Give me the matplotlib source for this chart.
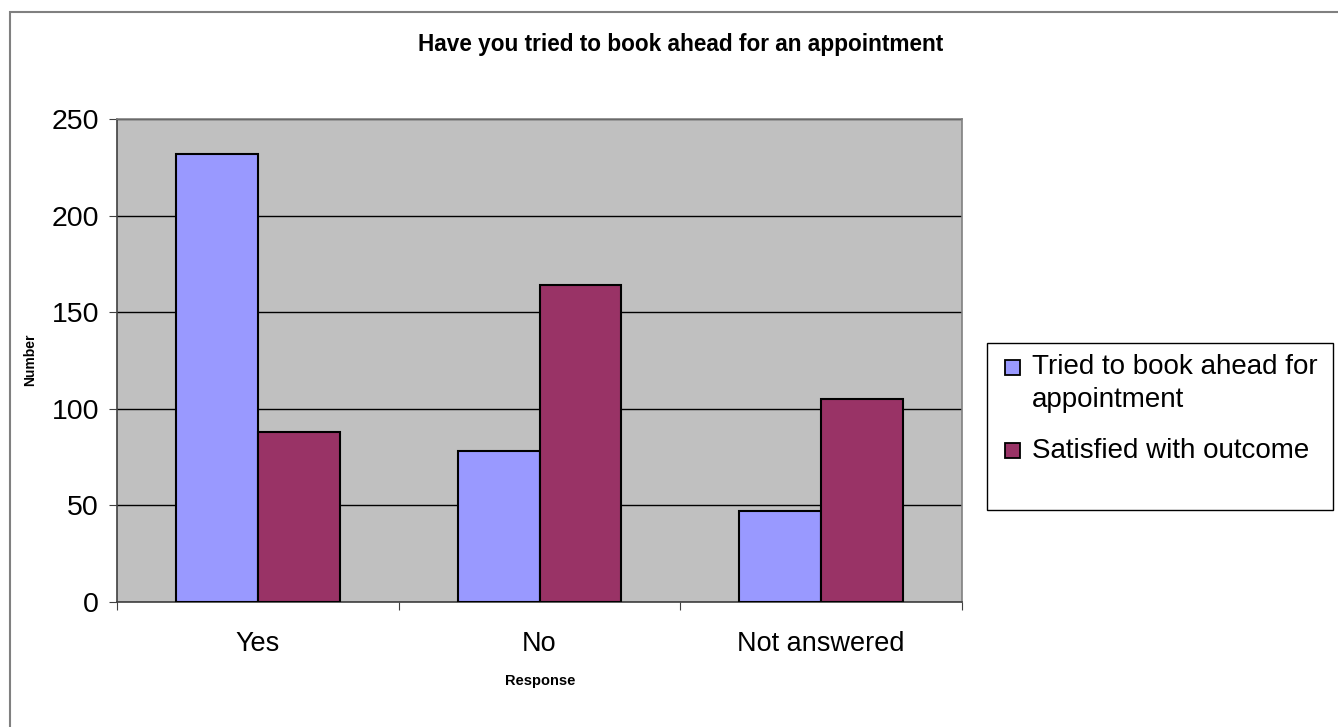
import matplotlib
matplotlib.use("Agg")
import matplotlib.pyplot as plt
from matplotlib.patches import Rectangle
import numpy as np

plt.rcParams['font.family'] = ['Liberation Sans', 'DejaVu Sans']

categories = ["Yes", "No", "Not answered"]
tried_ahead = [232, 78, 47]
satisfied = [88, 164, 105]
series_labels = [["Tried to book ahead for", "appointment"], ["Satisfied with outcome"]]
y_ticks = [0, 50, 100, 150, 200, 250]

blue = "#9999FF"
plum = "#993366"
W, H = 1338, 727


def fx(px):
    return px / W


def fy(py):
    return 1 - py / H


fig = plt.figure(figsize=(W / 100, H / 100), dpi=100)
fig.patch.set_facecolor("white")

# outer chart border
fig.add_artist(Rectangle((fx(10), -0.1), 1.2, fy(12) + 0.1,
                         transform=fig.transFigure, fill=False,
                         edgecolor="#808080", linewidth=1.5))

ax = fig.add_axes([fx(117), fy(602), fx(962 - 117), (602 - 119) / H])
ax.set_facecolor("#C0C0C0")

x = np.arange(len(categories))
w = 0.29
ax.bar(x - w / 2, tried_ahead, w, color=blue, edgecolor="black", linewidth=1.5, zorder=3)
ax.bar(x + w / 2, satisfied, w, color=plum, edgecolor="black", linewidth=1.5, zorder=3)

ax.set_xlim(-0.5, len(categories) - 0.5)
ax.set_ylim(0, 250)
ax.set_yticks(y_ticks)
ax.set_yticklabels([str(t) for t in y_ticks], fontsize=20.5)
ax.yaxis.grid(True, color="black", linewidth=1.0, zorder=1)

# category boundary ticks on x axis, labels centred under groups
ax.set_xticks(np.arange(len(categories) + 1) - 0.5)
ax.set_xticklabels([])
ax.set_xticks(x, minor=True)
ax.set_xticklabels(categories, minor=True, fontsize=19.5)
ax.tick_params(axis="x", which="minor", length=0, pad=21)
ax.tick_params(axis="x", which="major", length=6, direction="out", color="#404040")
ax.tick_params(axis="y", length=6, direction="out", color="#404040", pad=7)

for side in ["top", "right"]:
    ax.spines[side].set_color("#808080")
    ax.spines[side].set_linewidth(1.2)
for side in ["left", "bottom"]:
    ax.spines[side].set_color("#404040")
    ax.spines[side].set_linewidth(1.2)

fig.text(fx(681), fy(45), "Have you tried to book ahead for an appointment",
         ha="center", va="center", fontsize=16.3, fontweight="bold")
fig.text(fx(30), fy(360), "Number", rotation=90, ha="center", va="center",
         fontsize=10, fontweight="heavy")
fig.text(fx(540), fy(681), "Response", ha="center", va="center",
         fontsize=10.5, fontweight="bold")

# legend box
fig.add_artist(Rectangle((fx(987), fy(510)), fx(1333 - 987), (510 - 343) / H,
                         transform=fig.transFigure, facecolor="white",
                         edgecolor="black", linewidth=1.0))
colors = [blue, plum]
entry_tops = [367, 451]
for color, lines, top in zip(colors, series_labels, entry_tops):
    fig.add_artist(Rectangle((fx(1005), fy(top + 7.5)), fx(15), 15 / H,
                             transform=fig.transFigure, facecolor=color,
                             edgecolor="black", linewidth=1.3))
    for i, line in enumerate(lines):
        fig.text(fx(1032), fy(top + 33 * i), line, ha="left", va="center",
                 fontsize=20)

fig.savefig("out.png", dpi=100)
